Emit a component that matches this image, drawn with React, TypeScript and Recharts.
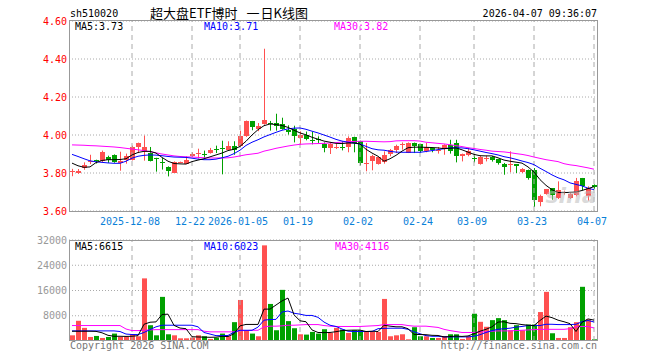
import React from "react";
import {
  ComposedChart,
  Bar,
  Line,
  XAxis,
  YAxis,
  CartesianGrid,
  ReferenceLine,
} from "recharts";

const dates = [
  "2025-11-24", "2025-11-25", "2025-11-26", "2025-11-27", "2025-11-28", "2025-12-01", "2025-12-02", "2025-12-03", "2025-12-04", "2025-12-05",
  "2025-12-08", "2025-12-09", "2025-12-10", "2025-12-11", "2025-12-12", "2025-12-15", "2025-12-16", "2025-12-17", "2025-12-18", "2025-12-19",
  "2025-12-22", "2025-12-23", "2025-12-24", "2025-12-25", "2025-12-26", "2025-12-29", "2025-12-30", "2025-12-31", "2026-01-05", "2026-01-06",
  "2026-01-07", "2026-01-08", "2026-01-09", "2026-01-12", "2026-01-13", "2026-01-14", "2026-01-15", "2026-01-16", "2026-01-19", "2026-01-20",
  "2026-01-21", "2026-01-22", "2026-01-23", "2026-01-26", "2026-01-27", "2026-01-28", "2026-01-29", "2026-01-30", "2026-02-02", "2026-02-03",
  "2026-02-04", "2026-02-05", "2026-02-06", "2026-02-09", "2026-02-10", "2026-02-11", "2026-02-12", "2026-02-13", "2026-02-24", "2026-02-25",
  "2026-02-26", "2026-02-27", "2026-03-02", "2026-03-03", "2026-03-04", "2026-03-05", "2026-03-06", "2026-03-09", "2026-03-10", "2026-03-11",
  "2026-03-12", "2026-03-13", "2026-03-16", "2026-03-17", "2026-03-18", "2026-03-19", "2026-03-20", "2026-03-23", "2026-03-24", "2026-03-25",
  "2026-03-26", "2026-03-27", "2026-03-30", "2026-03-31", "2026-04-01", "2026-04-02", "2026-04-03", "2026-04-07",
];

const open = [
  3.807, 3.798, 3.826, 3.858, 3.866, 3.861, 3.886, 3.896, 3.853, 3.870,
  3.870, 3.935, 3.917, 3.905, 3.879, 3.860, 3.833, 3.802, 3.856, 3.849,
  3.888, 3.902, 3.902, 3.905, 3.925, 3.934, 3.919, 3.940, 3.940, 3.993,
  4.072, 4.032, 4.060, 4.065, 4.063, 4.058, 4.028, 4.033, 3.982, 4.002,
  3.974, 3.981, 3.953, 3.930, 3.935, 3.938, 3.937, 3.989, 3.967, 3.851,
  3.861, 3.849, 3.856, 3.900, 3.923, 3.951, 3.905, 3.958, 3.951, 3.914,
  3.932, 3.921, 3.926, 3.949, 3.958, 3.888, 3.893, 3.881, 3.849, 3.877,
  3.886, 3.874, 3.849, 3.843, 3.847, 3.804, 3.818, 3.818, 3.646, 3.691,
  3.721, 3.668, 3.697, 3.668, 3.686, 3.774, 3.680, 3.735,
];
const high = [
  3.822, 3.821, 3.856, 3.896, 3.870, 3.918, 3.891, 3.898, 3.912, 3.902,
  3.944, 3.960, 3.997, 3.937, 3.880, 3.879, 3.835, 3.861, 3.860, 3.888,
  3.909, 3.928, 3.918, 3.932, 3.944, 3.970, 3.967, 3.967, 4.023, 4.076,
  4.074, 4.063, 4.454, 4.074, 4.112, 4.091, 4.051, 4.049, 4.019, 4.018,
  4.018, 3.993, 3.961, 3.961, 3.954, 3.967, 3.993, 3.991, 3.970, 3.958,
  3.896, 3.884, 3.914, 3.926, 3.949, 3.961, 3.961, 3.960, 3.953, 3.958,
  3.932, 3.937, 3.951, 3.975, 3.975, 3.902, 3.932, 3.893, 3.891, 3.891,
  3.889, 3.874, 3.853, 3.914, 3.847, 3.826, 3.818, 3.826, 3.686, 3.716,
  3.721, 3.756, 3.707, 3.695, 3.774, 3.774, 3.730, 3.740,
];
const low = [
  3.783, 3.795, 3.817, 3.847, 3.850, 3.858, 3.853, 3.854, 3.812, 3.849,
  3.866, 3.905, 3.865, 3.861, 3.807, 3.818, 3.782, 3.800, 3.852, 3.849,
  3.884, 3.876, 3.879, 3.902, 3.905, 3.793, 3.918, 3.896, 3.937, 3.990,
  4.025, 4.020, 4.054, 4.023, 4.023, 4.028, 4.002, 3.961, 3.949, 3.972,
  3.951, 3.958, 3.909, 3.900, 3.926, 3.919, 3.909, 3.909, 3.840, 3.809,
  3.814, 3.844, 3.849, 3.888, 3.905, 3.923, 3.905, 3.905, 3.905, 3.909,
  3.909, 3.902, 3.896, 3.902, 3.856, 3.861, 3.888, 3.856, 3.844, 3.861,
  3.860, 3.844, 3.791, 3.804, 3.800, 3.800, 3.765, 3.621, 3.625, 3.686,
  3.660, 3.663, 3.686, 3.663, 3.677, 3.709, 3.655, 3.715,
];
const close = [
  3.810, 3.812, 3.844, 3.862, 3.861, 3.909, 3.867, 3.856, 3.861, 3.891,
  3.935, 3.960, 3.937, 3.865, 3.876, 3.857, 3.812, 3.856, 3.858, 3.870,
  3.902, 3.904, 3.900, 3.923, 3.923, 3.931, 3.940, 3.923, 3.995, 4.072,
  4.042, 4.046, 4.081, 4.060, 4.049, 4.032, 4.016, 3.993, 4.000, 3.981,
  3.970, 3.978, 3.930, 3.953, 3.937, 3.935, 3.986, 3.958, 3.853, 3.853,
  3.888, 3.882, 3.896, 3.923, 3.944, 3.953, 3.958, 3.944, 3.914, 3.937,
  3.923, 3.923, 3.949, 3.914, 3.888, 3.902, 3.914, 3.878, 3.882, 3.879,
  3.870, 3.853, 3.832, 3.845, 3.835, 3.821, 3.774, 3.656, 3.681, 3.716,
  3.686, 3.712, 3.699, 3.689, 3.760, 3.730, 3.721, 3.728,
];

// price moving averages
const ma5 = [
  3.852, 3.838, 3.830, 3.832, 3.855, 3.866, 3.870, 3.870, 3.871, 3.875,
  3.895, 3.908, 3.914, 3.914, 3.905, 3.882, 3.862, 3.850, 3.848, 3.847,
  3.860, 3.868, 3.875, 3.885, 3.895, 3.905, 3.918, 3.925, 3.940, 3.967,
  4.000, 4.028, 4.049, 4.058, 4.055, 4.050, 4.040, 4.025, 4.011, 4.001,
  3.988, 3.978, 3.968, 3.962, 3.956, 3.955, 3.958, 3.958, 3.953, 3.925,
  3.905, 3.888, 3.862, 3.875, 3.893, 3.915, 3.933, 3.936, 3.936, 3.935,
  3.934, 3.932, 3.928, 3.930, 3.932, 3.922, 3.910, 3.898, 3.891, 3.890,
  3.890, 3.880, 3.868, 3.862, 3.857, 3.852, 3.832, 3.805, 3.765, 3.735,
  3.712, 3.697, 3.697, 3.698, 3.700, 3.708, 3.718, 3.728,
];
const ma10 = [
  3.898, 3.887, 3.875, 3.864, 3.859, 3.856, 3.853, 3.851, 3.851, 3.862,
  3.878, 3.888, 3.893, 3.895, 3.894, 3.891, 3.887, 3.884, 3.883, 3.882,
  3.878, 3.873, 3.870, 3.870, 3.873, 3.880, 3.888, 3.902, 3.920, 3.945,
  3.962, 3.975, 3.990, 4.002, 4.014, 4.025, 4.032, 4.036, 4.037, 4.030,
  4.020, 4.011, 4.000, 3.989, 3.977, 3.968, 3.962, 3.957, 3.953, 3.940,
  3.928, 3.922, 3.920, 3.914, 3.910, 3.909, 3.909, 3.909, 3.909, 3.913,
  3.918, 3.923, 3.928, 3.932, 3.933, 3.932, 3.928, 3.922, 3.915, 3.908,
  3.902, 3.895, 3.886, 3.880, 3.872, 3.863, 3.855, 3.844, 3.825, 3.808,
  3.790, 3.775, 3.764, 3.748, 3.740, 3.732, 3.720, 3.712,
];
const ma30 = [
  3.948, 3.947, 3.946, 3.944, 3.943, 3.941, 3.939, 3.937, 3.934, 3.930,
  3.926, 3.922, 3.918, 3.912, 3.906, 3.900, 3.895, 3.890, 3.887, 3.885,
  3.884, 3.882, 3.880, 3.879, 3.879, 3.879, 3.880, 3.884, 3.890, 3.896,
  3.900, 3.904, 3.915, 3.922, 3.930, 3.936, 3.942, 3.947, 3.951, 3.953,
  3.954, 3.955, 3.956, 3.958, 3.960, 3.963, 3.965, 3.966, 3.967, 3.967,
  3.966, 3.965, 3.964, 3.965, 3.969, 3.970, 3.970, 3.970, 3.968, 3.962,
  3.959, 3.956, 3.953, 3.949, 3.944, 3.939, 3.933, 3.929, 3.924, 3.920,
  3.915, 3.913, 3.911, 3.907, 3.902, 3.898, 3.892, 3.884, 3.877, 3.870,
  3.865, 3.860, 3.849, 3.843, 3.839, 3.833, 3.827, 3.820,
];

const volume = [
  1800, 6400, 4160, 1280, 1600, 960, 1280, 2350, 1280, 1280,
  2130, 1500, 19840, 5000, 1800, 13980, 2130, 1800, 850, 850,
  1070, 1800, 1500, 640, 1070, 2350, 1500, 5970, 13000, 3410,
  2350, 1500, 30300, 11740, 3410, 16200, 6300, 4050, 2130, 2030,
  2880, 2350, 3730, 2560, 4160, 3630, 2560, 3410, 3410, 2880,
  2880, 2880, 13330, 1500, 1800, 2130, 530, 4370, 1500, 1500,
  960, 960, 1500, 2130, 2130, 640, 1500, 8640, 6080, 4500,
  6610, 7250, 6610, 3410, 5010, 3410, 5220, 5220, 9170, 15570,
  2450, 960, 960, 4370, 5970, 17170, 6830, 530,
];
const vma5 = [
  3090, 3090, 3100, 3100, 3050, 2600, 1800, 1500, 1500, 1450,
  1500, 1700, 5300, 5950, 6050, 8400, 8500, 4950, 4100, 3900,
  1350, 1280, 1220, 1170, 1220, 1470, 1410, 2300, 4800, 5250,
  5250, 5250, 10100, 10100, 11400, 12700, 13600, 8300, 6400, 6100,
  3500, 2700, 2650, 2700, 2950, 3300, 3400, 3450, 3450, 3000,
  3100, 3000, 5000, 4700, 4500, 4500, 3900, 2100, 2050, 2000,
  1800, 1750, 1300, 1400, 1550, 1450, 1600, 2300, 3100, 3700,
  4500, 6000, 6100, 5600, 5500, 5200, 5000, 4900, 6500, 7900,
  7400, 6600, 6100, 5500, 3000, 5900, 7000, 6615,
];
const vma10 = [
  3200, 3200, 3200, 3200, 3200, 3200, 3200, 3200, 3000, 2200,
  2050, 2030, 2700, 3600, 4500, 5000, 5000, 5000, 5000, 5000,
  5000, 4500, 2700, 2200, 1700, 1700, 1750, 2800, 3400, 3400,
  3400, 4400, 6600, 6800, 6850, 9200, 9500, 8800, 8500, 8100,
  8100, 7500, 6000, 5000, 4600, 3800, 3100, 3000, 3000, 3000,
  3000, 3900, 4000, 4050, 4050, 4050, 3700, 2900, 2300, 1700,
  1500, 1500, 1300, 1300, 1300, 1300, 1300, 1500, 2000, 2700,
  3300, 3700, 3900, 4050, 4400, 4600, 4900, 4900, 4900, 5300,
  5300, 5200, 5200, 5200, 5300, 6100, 6500, 6023,
];
const vma30 = [
  4900, 4900, 4900, 4900, 4900, 4900, 4900, 4900, 4900, 3800,
  3300, 3300, 3400, 3500, 3600, 3600, 3600, 3600, 3600, 3600,
  3600, 3600, 3100, 2900, 2900, 2900, 2900, 2900, 3300, 3300,
  3400, 3400, 4500, 4700, 4700, 4800, 5000, 5000, 5100, 5200,
  5200, 5200, 4900, 4700, 4600, 4600, 4600, 4600, 4600, 4700,
  4800, 4900, 5200, 5200, 5200, 5200, 4900, 4700, 4700, 4700,
  4500, 4300, 3700, 3300, 3000, 2700, 2700, 2700, 2900, 2900,
  3100, 3200, 3200, 3200, 3300, 3400, 3500, 3600, 3700, 3700,
  3700, 3700, 3700, 3900, 4500, 4600, 4600, 4116,
];

const tickDates = ["2025-12-08", "2025-12-22", "2026-01-05", "2026-01-19", "2026-02-02", "2026-02-24", "2026-03-09", "2026-03-23", "2026-04-07"];
const tickLabels = ["2025-12-08", "12-22", "2026-01-05", "01-19", "02-02", "02-24", "03-09", "03-23", "04-07"];
const priceTicks = [3.6, 3.8, 4.0, 4.2, 4.4, 4.6];
const volTicks = [8000, 16000, 24000, 32000];

const RED = "#ff5050";
const GREEN = "#00a000";
const MONO = "'DejaVu Sans Mono', monospace";
const CJK = "'Noto Sans CJK SC', sans-serif";

const data = dates.map((d, i) => ({
  date: d,
  o: open[i],
  h: high[i],
  l: low[i],
  c: close[i],
  range: [low[i], high[i]],
  vol: volume[i],
  ma5: ma5[i],
  ma10: ma10[i],
  ma30: ma30[i],
  vma5: vma5[i],
  vma10: vma10[i],
  vma30: vma30[i],
}));

function Candle(props: any) {
  const { x, y, height, payload } = props;
  const { o, h, l, c } = payload;
  const color = c >= o ? RED : GREEN;
  const py = (p: number) => y + ((h - p) / (h - l)) * height;
  const left = Math.round(x);
  const top = Math.round(Math.min(py(o), py(c)));
  const bot = Math.round(Math.max(py(o), py(c)));
  return (
    <g>
      <line x1={left + 3.5} x2={left + 3.5} y1={y} y2={y + height} stroke={color} strokeWidth={1} />
      <rect x={left + 1} y={top} width={5} height={Math.max(1, bot - top)} fill={color} />
    </g>
  );
}

function VolBar(props: any) {
  const { x, y, height, payload } = props;
  const color = payload.c >= payload.o ? RED : GREEN;
  return <rect x={Math.round(x) + 1} y={y} width={5} height={height} fill={color} />;
}

const PriceTick = (p: any) => (
  <text x={67} y={p.y} dy={3.5} textAnchor="end" fontFamily={MONO} fontSize={10} fill="#ff0000">
    {Number(p.payload.value).toFixed(2)}
  </text>
);

const VolTick = (p: any) => (
  <text x={67} y={p.y} dy={3.5} textAnchor="end" fontFamily={MONO} fontSize={10} fill="#999">
    {p.payload.value}
  </text>
);

const DateTick = (p: any) => (
  <text x={p.x - 2} y={225} textAnchor="middle" fontFamily={MONO} fontSize={10} fill="#0a80d8">
    {tickLabels[tickDates.indexOf(p.payload.value)]}
  </text>
);

export default function App() {
  return (
    <div style={{ position: "absolute", left: 0, top: 0, width: 660, height: 360, background: "#fff" }}>
      <div style={{ position: "absolute", left: 0, top: 0 }}>
        <ComposedChart width={660} height={230} data={data} barCategoryGap={0} barGap={0}
          margin={{ top: 21, right: 63, left: 0, bottom: 0 }}>
          <CartesianGrid vertical={false} stroke="#aaa" strokeDasharray="1 2" />
          <XAxis dataKey="date" ticks={tickDates} interval={0} tick={DateTick} tickLine={false} axisLine={false} height={19} />
          <YAxis domain={[3.6, 4.6]} ticks={priceTicks} tick={PriceTick} tickLine={false} axisLine={false} width={69} />
          {tickDates.map((d) => (
            <ReferenceLine key={d} x={d} stroke="#aaa" strokeDasharray="5 4" ifOverflow="visible" />
          ))}
          <Bar dataKey="range" shape={Candle} isAnimationActive={false} />
          <Line dataKey="ma30" stroke="#ff00ff" dot={false} strokeWidth={1} isAnimationActive={false} />
          <Line dataKey="ma10" stroke="#0000ff" dot={false} strokeWidth={1} isAnimationActive={false} />
          <Line dataKey="ma5" stroke="#000" dot={false} strokeWidth={1} isAnimationActive={false} />
        </ComposedChart>
      </div>
      <div style={{ position: "absolute", left: 0, top: 230 }}>
        <ComposedChart width={660} height={111} data={data} barCategoryGap={0} barGap={0}
          margin={{ top: 10, right: 63, left: 0, bottom: 0 }}>
          <CartesianGrid vertical={false} stroke="#aaa" strokeDasharray="1 2" />
          <XAxis dataKey="date" hide />
          <YAxis domain={[0, 32000]} ticks={volTicks} tick={VolTick} tickLine={false} axisLine={false} width={69} />
          {tickDates.map((d) => (
            <ReferenceLine key={d} x={d} stroke="#aaa" strokeDasharray="5 4" />
          ))}
          <Bar dataKey="vol" shape={VolBar} isAnimationActive={false} />
          <Line dataKey="vma30" stroke="#ff00ff" dot={false} strokeWidth={1} isAnimationActive={false} />
          <Line dataKey="vma10" stroke="#0000ff" dot={false} strokeWidth={1} isAnimationActive={false} />
          <Line dataKey="vma5" stroke="#000" dot={false} strokeWidth={1} isAnimationActive={false} />
        </ComposedChart>
      </div>
      <svg width={660} height={360} style={{ position: "absolute", left: 0, top: 0, pointerEvents: "none" }}>
        <rect x={69.5} y={20.5} width={528} height={191} fill="none" stroke="#999" />
        <rect x={69.5} y={240.5} width={528} height={100} fill="none" stroke="#999" />
        <text x={70} y={17} fontFamily={MONO} fontSize={10} fill="#000">sh510020</text>
        <text x={150} y={18} fontFamily={CJK} fontSize={13} fill="#000">超大盘ETF博时</text>
        <text x={253} y={18} textAnchor="middle" fontFamily={CJK} fontSize={13} fill="#000">一</text>
        <text x={308} y={18} textAnchor="end" fontFamily={CJK} fontSize={13} fill="#000">日K线图</text>
        <text x={597} y={17} textAnchor="end" fontFamily={MONO} fontSize={10} fill="#000">2026-04-07 09:36:07</text>
        <text x={75} y={30} fontFamily={MONO} fontSize={10} fill="#000">MA5:3.73</text>
        <text x={204} y={30} fontFamily={MONO} fontSize={10} fill="#0000ff">MA10:3.71</text>
        <text x={334} y={30} fontFamily={MONO} fontSize={10} fill="#ff00ff">MA30:3.82</text>
        <text x={75} y={250} fontFamily={MONO} fontSize={10} fill="#000">MA5:6615</text>
        <text x={204} y={250} fontFamily={MONO} fontSize={10} fill="#0000ff">MA10:6023</text>
        <text x={335} y={250} fontFamily={MONO} fontSize={10} fill="#ff00ff">MA30:4116</text>
        <text x={70} y={349} fontFamily={MONO} fontSize={10} fill="#777">Copyright 2026 SINA.COM</text>
        <text x={597} y={349} textAnchor="end" fontFamily={MONO} fontSize={10} fill="#777">http://finance.sina.com.cn</text>
        <text x={571} y={203} textAnchor="middle" fontFamily="'DejaVu Sans', sans-serif" fontSize={22}
          fontStyle="italic" fontWeight="bold" fill="#bbb" fillOpacity={0.55}>sina</text>
      </svg>
    </div>
  );
}
